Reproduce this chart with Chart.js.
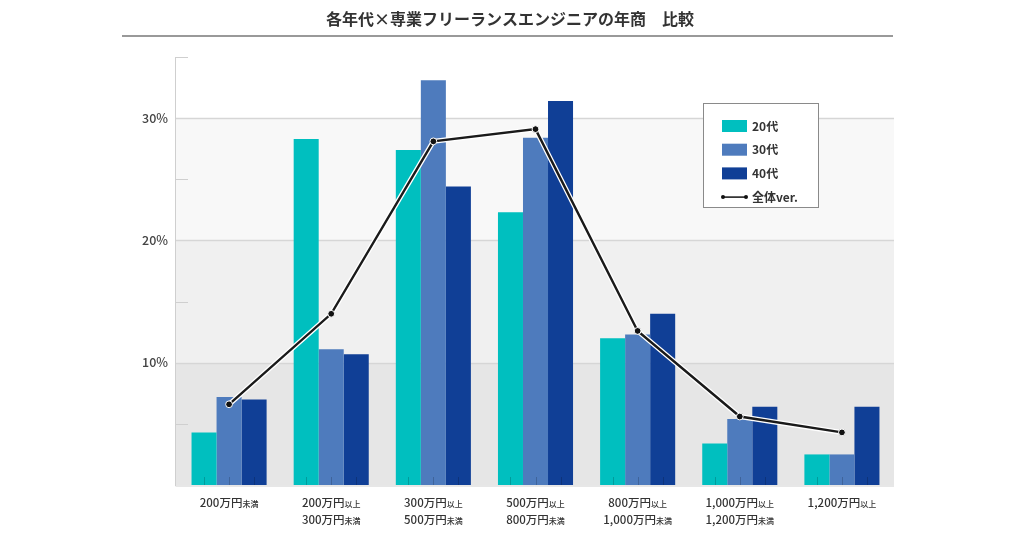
<!DOCTYPE html>
<html>
<head>
<meta charset="utf-8">
<script src="https://cdn.jsdelivr.net/npm/chart.js@4/dist/chart.umd.min.js"></script>
<style>
  html, body { margin: 0; padding: 0; background: #fff; }
  #wrap { width: 1024px; height: 538px; }
</style>
</head>
<body>
<div id="wrap"><canvas id="myChart" width="1024" height="538"></canvas></div>
<script>
(() => {
  'use strict';

  const titleText = '各年代×専業フリーランスエンジニアの年商　比較';
  const categories = [
    '200万円未満',
    '200万円以上\n300万円未満',
    '300万円以上\n500万円未満',
    '500万円以上\n800万円未満',
    '800万円以上\n1,000万円未満',
    '1,000万円以上\n1,200万円未満',
    '1,200万円以上'
  ];
  const seriesNames = ['20代', '30代', '40代', '全体ver.'];
  const age20 = [4.3, 28.3, 27.4, 22.3, 12.0, 3.4, 2.5];
  const age30 = [7.2, 11.1, 33.1, 28.4, 12.3, 5.4, 2.5];
  const age40 = [7.0, 10.7, 24.4, 31.4, 14.0, 6.4, 6.4];
  const overall = [6.6, 14.0, 28.1, 29.1, 12.6, 5.6, 4.3];
  const yTicks = [10, 20, 30];

  const colors = ['#00bfbf', '#4e7bbd', '#103f96', '#111'];
  const FONT = "'Noto Sans CJK JP', 'Noto Sans', sans-serif";
  Chart.defaults.font.family = FONT;

  // bands, grid lines and small inner ticks behind the bars
  const backdrop = {
    id: 'backdrop',
    beforeDatasetsDraw(chart) {
      const { ctx, chartArea: a, scales: { y } } = chart;
      const left = a.left - 3, right = a.right + 1;
      const bands = [[0, 10, '#e6e6e6'], [10, 20, '#f0f0f0'], [20, 30, '#f8f8f8']];
      ctx.save();
      bands.forEach(([lo, hi, c]) => {
        const top = y.getPixelForValue(hi), bot = y.getPixelForValue(lo);
        ctx.fillStyle = c;
        ctx.fillRect(left, top, right - left, bot - top);
      });
      ctx.strokeStyle = '#d6d6d6';
      ctx.lineWidth = 1.5;
      yTicks.forEach(v => {
        const py = Math.round(y.getPixelForValue(v)) + 0.5;
        ctx.beginPath(); ctx.moveTo(left, py); ctx.lineTo(right, py); ctx.stroke();
      });
      // axis lines + minor ticks
      ctx.strokeStyle = '#cfcfcf';
      ctx.lineWidth = 1;
      ctx.beginPath();
      ctx.moveTo(left + 0.5, y.getPixelForValue(35));
      ctx.lineTo(left + 0.5, y.getPixelForValue(0) + 1);
      ctx.lineTo(right, y.getPixelForValue(0) + 1);
      ctx.stroke();
      [5, 15, 25, 35].forEach(v => {
        const py = Math.round(y.getPixelForValue(v)) + 0.5;
        ctx.beginPath(); ctx.moveTo(left, py); ctx.lineTo(left + 13, py); ctx.stroke();
      });
      ctx.restore();
    },
    // faint tick marks at the foot of each bar
    afterDatasetsDraw(chart) {
      const { ctx, scales: { y } } = chart;
      const base = y.getPixelForValue(0);
      ctx.save();
      ctx.strokeStyle = 'rgba(0,0,0,0.18)';
      ctx.lineWidth = 1;
      [2, 3, 4].forEach(di => {
        chart.getDatasetMeta(di).data.forEach(bar => {
          const px = Math.round(bar.x) + 0.5;
          ctx.beginPath(); ctx.moveTo(px, base); ctx.lineTo(px, base - 8); ctx.stroke();
        });
      });
      ctx.restore();
    }
  };

  // title, rule, category labels with small 以上/未満, legend box
  const decor = {
    id: 'decor',
    afterDraw(chart) {
      const { ctx, scales: { x } } = chart;
      ctx.save();
      ctx.fillStyle = '#333';
      ctx.font = 'bold 16px ' + FONT;
      ctx.textAlign = 'center';
      ctx.textBaseline = 'middle';
      ctx.fillText(titleText, 510, 19);
      ctx.strokeStyle = '#999';
      ctx.lineWidth = 2;
      ctx.beginPath(); ctx.moveTo(122, 36); ctx.lineTo(893, 36); ctx.stroke();

      ctx.textAlign = 'left';
      ctx.textBaseline = 'alphabetic';
      categories.forEach((label, i) => {
        const cx = x.getPixelForValue(i);
        label.split('\n').forEach((line, j) => {
          const main = line.slice(0, -2), tail = line.slice(-2);
          ctx.font = '500 11.5px ' + FONT;
          const w1 = ctx.measureText(main).width;
          ctx.font = '500 8px ' + FONT;
          const w2 = ctx.measureText(tail).width;
          const sx = cx - (w1 + w2) / 2;
          const by = 507 + j * 17;
          ctx.font = '500 11.5px ' + FONT;
          ctx.fillText(main, sx, by);
          ctx.font = '500 8px ' + FONT;
          ctx.fillText(tail, sx + w1, by);
        });
      });

      // legend
      ctx.fillStyle = '#fff';
      ctx.fillRect(703, 103, 115, 104);
      ctx.strokeStyle = '#8a8a8a';
      ctx.lineWidth = 1;
      ctx.strokeRect(703.5, 103.5, 115, 104);
      ctx.font = 'bold 12px ' + FONT;
      ctx.textBaseline = 'middle';
      seriesNames.forEach((name, i) => {
        const cy = 126 + i * 23.7;
        if (i < 3) {
          ctx.fillStyle = colors[i];
          ctx.fillRect(722, cy - 6, 25, 12);
        } else {
          ctx.strokeStyle = '#111';
          ctx.lineWidth = 1.5;
          ctx.beginPath(); ctx.moveTo(722, cy); ctx.lineTo(747, cy); ctx.stroke();
          ctx.fillStyle = '#111';
          [723, 746].forEach(px => { ctx.beginPath(); ctx.arc(px, cy, 2, 0, Math.PI * 2); ctx.fill(); });
        }
        ctx.fillStyle = '#333';
        ctx.fillText(name, 752, cy);
      });
      ctx.restore();
    }
  };

  const ctx = document.getElementById('myChart');
  // eslint-disable-next-line no-unused-vars
  const myChart = new Chart(ctx, {
    type: 'bar',
    data: {
      labels: categories,
      datasets: [
        { type: 'line', label: seriesNames[3], data: overall, order: 0,
          borderColor: '#1a1a1a', borderWidth: 2.4, tension: 0,
          pointRadius: 3.4, pointBackgroundColor: '#111', pointBorderColor: '#fff', pointBorderWidth: 1 },
        { type: 'line', label: 'halo', data: overall, order: 1,
          borderColor: '#fff', borderWidth: 5, tension: 0, pointRadius: 0 },
        { label: seriesNames[0], data: age20, backgroundColor: colors[0], order: 2 },
        { label: seriesNames[1], data: age30, backgroundColor: colors[1], order: 2 },
        { label: seriesNames[2], data: age40, backgroundColor: colors[2], order: 2 }
      ]
    },
    options: {
      responsive: false,
      animation: false,
      layout: { padding: { top: 57, right: 131, bottom: 0, left: 0 } },
      datasets: { bar: { categoryPercentage: 0.735, barPercentage: 1, borderWidth: 0 } },
      scales: {
        x: {
          grid: { display: false },
          border: { display: false },
          ticks: { display: false },
          afterFit: s => { s.height = 53; }
        },
        y: {
          min: 0, max: 35,
          afterFit: s => { s.width = 178; },
          afterBuildTicks: s => { s.ticks = yTicks.map(v => ({ value: v })); },
          grid: { display: false, drawTicks: false },
          border: { display: false },
          ticks: {
            padding: 10,
            color: '#444',
            font: { size: 12.5, weight: '500' },
            callback: v => v + '%'
          }
        }
      },
      plugins: {
        legend: { display: false },
        tooltip: { enabled: false }
      }
    },
    plugins: [backdrop, decor]
  });
})();
</script>
</body>
</html>
